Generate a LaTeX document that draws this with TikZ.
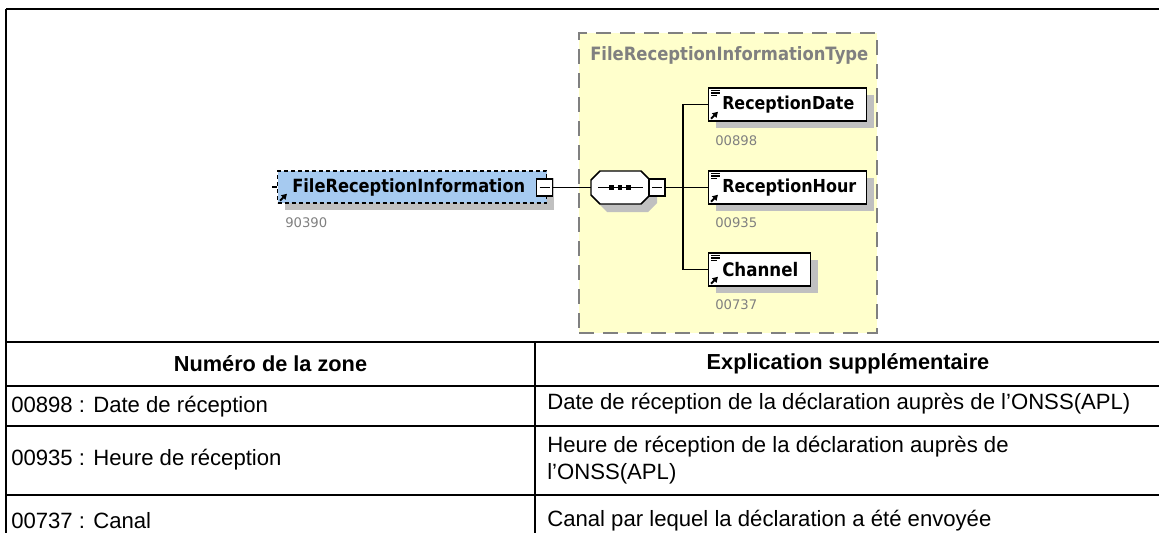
\documentclass[tikz,border=0pt]{standalone}
\usepackage{fontspec}
\usepackage{graphicx}
\setmainfont{Liberation Sans}
\newfontfamily\xsfont{DejaVu Sans}
\usetikzlibrary{shadows,arrows.meta}
\definecolor{xblue}{RGB}{166,202,240}
\definecolor{xyellow}{RGB}{255,255,204}
\definecolor{xshadow}{RGB}{192,192,192}
\definecolor{xgray}{RGB}{128,128,128}
\newcommand\fitw[2]{\resizebox{#1}{!}{#2}}
\newcommand\fitt[2]{\scalebox{1}[1.12]{\resizebox{#1}{!}{#2}}}
\tikzset{
  conn/.style={draw=black, line width=1.1pt},
  tbl/.style={draw=black, line width=1.4pt},
  typebox/.style={draw=xgray, fill=xyellow, line width=1.1pt, dash pattern=on 11pt off 7pt, inner sep=0pt},
  elem/.style={draw=black, line width=1.1pt, fill=white, inner sep=0pt, minimum height=24.75pt, anchor=west,
    drop shadow={shadow xshift=5.25pt, shadow yshift=-5.25pt, opacity=1, fill=xshadow}},
  minusbox/.style={draw=black, line width=0.9pt, fill=white, inner sep=0pt, minimum width=12pt, minimum height=12.75pt},
  elname/.style={inner sep=0pt, anchor=west, text=black, font=\xsfont\bfseries},
  elnum/.style={inner sep=0pt, anchor=west, text=xgray, font=\xsfont},
  cell/.style={inner sep=0pt, anchor=west, font=\fontsize{16.6}{19.8}\selectfont, align=left},
  head/.style={inner sep=0pt, font=\fontsize{16.3}{19.5}\selectfont\bfseries},
  refarrow/.pic={\draw[line width=1.5pt,-{Triangle[length=4pt,width=4.5pt]}] (0,0) -- (7,-7);},
  lines3/.pic={\draw[line width=0.9pt] (0,0) -- (9,0) (0,2.8) -- (9,2.8) (0,5.6) -- (6,5.6);}
}
\begin{document}
\begin{tikzpicture}[x=0.75pt,y=-0.75pt]
\useasboundingbox (0,0) rectangle (1159,533);
% complex type container
\node[typebox, minimum width=223.5pt, minimum height=225pt] (typ) at (728,183) {};
\node[inner sep=0pt, anchor=west, text=xgray, font=\xsfont\bfseries] (typt) at (590,55) {\fitt{208.5pt}{FileReceptionInformationType}};
% root element
\node[elem, dashed, dash pattern=on 3pt off 2.25pt, fill=xblue, minimum width=201.75pt, minimum height=24pt] (fri) at (277,187) {};
\node[elname] (frit) at (292,187) {\fitt{174.75pt}{FileReceptionInformation}};
\pic at ([shift={(3,-3)}]fri.south west) {refarrow};
\node[minusbox] (frim) at (544.5,187.5) {};
\draw[line width=0.9pt] (frim.center) +(-5,0) -- +(5,0);
\node[elnum] (frin) at (285,223) {\fitw{31.5pt}{90390}};
% sequence compositor
\node[inner sep=0pt, minimum width=44.25pt, minimum height=24.75pt] (seq) at (620.5,187.5) {};
\begin{scope}[shift={(seq.center)}]
  \fill[xshadow] (-22.5,-8.5) -- (-13.5,-8.5) -- (27.5,-8.5) -- (36.5,0.5) -- (36.5,15.5) -- (27.5,24.5) -- (-13.5,24.5) -- (-22.5,15.5) -- cycle;
  \draw[line width=1.1pt, fill=white] (-29.5,-7.5) -- (-20.5,-16.5) -- (20.5,-16.5) -- (29.5,-7.5) -- (29.5,7.5) -- (20.5,16.5) -- (-20.5,16.5) -- (-29.5,7.5) -- cycle;
  \draw[line width=1pt] (-22.5,0) -- (22.5,0);
  \fill (-11.5,-2.3) rectangle (-6.9,2.3);
  \fill (-2.8,-2.3) rectangle (1.8,2.3);
  \fill (5.9,-2.3) rectangle (10.5,2.3);
\end{scope}
\node[minusbox] (seqm) at (657,187.5) {};
\draw[line width=0.9pt] (seqm.center) +(-5,0) -- +(5,0);
\coordinate (bus) at (683,187.5);
% child elements
\node[elem, minimum width=118.5pt] (rd) at (708,104.5) {};
\node[elname] at (722,104.5) {\fitt{99pt}{ReceptionDate}};
\pic at ([shift={(3,-3)}]rd.south west) {refarrow};
\pic at ([shift={(3,3)}]rd.north west) {lines3};
\node[elnum] (rdn) at (715,141) {\fitw{31.5pt}{00898}};
\node[elem, minimum width=118.5pt] (rh) at (708,187.5) {};
\node[elname] at (722,187.5) {\fitt{100.5pt}{ReceptionHour}};
\pic at ([shift={(3,-3)}]rh.south west) {refarrow};
\pic at ([shift={(3,3)}]rh.north west) {lines3};
\node[elnum] (rhn) at (715,223) {\fitw{31.5pt}{00935}};
\node[elem, minimum width=76.5pt] (ch) at (708,269.5) {};
\node[elname] at (722,269.5) {\fitt{57pt}{Channel}};
\pic at ([shift={(3,-3)}]ch.south west) {refarrow};
\pic at ([shift={(3,3)}]ch.north west) {lines3};
\node[elnum] (chn) at (715,305) {\fitw{31.5pt}{00737}};
% connectors
\draw[conn] (fri.west) -- ++(-5,0);
\draw[conn] (frim.east) -- (seq.west);
\draw[conn] (seqm.east) -- (bus);
\draw[conn] (rd.west) -| (bus) |- (ch.west);
\draw[conn] (bus) -- (rh.west);
% table
\draw[tbl] (6,9) -- (1159,9);
\draw[tbl] (6,9) -- (6,533);
\draw[tbl] (6,342) -- (1159,342);
\draw[tbl] (535,342) -- (535,533);
\draw[tbl] (6,386) -- (1159,386);
\draw[tbl] (6,426) -- (1159,426);
\draw[tbl] (6,495) -- (1159,495);
\node[head] (h1) at (270.5,364) {Numéro de la zone};
\node[head] (h2) at (848,364) {Explication supplémentaire};
\node[cell] (c11) at (11,407) {00898 : Date de réception};
\node[cell] (c12) at (547,404) {Date de réception de la déclaration auprès de l’ONSS(APL)};
\node[cell] (c21) at (11,460) {00935 : Heure de réception};
\node[cell] (c22) at (547,460) {Heure de réception de la déclaration auprès de\\l’ONSS(APL)};
\node[cell] (c31) at (11,521) {00737 : Canal};
\node[cell] (c32) at (547,521) {Canal par lequel la déclaration a été envoyée};
\end{tikzpicture}
\end{document}
